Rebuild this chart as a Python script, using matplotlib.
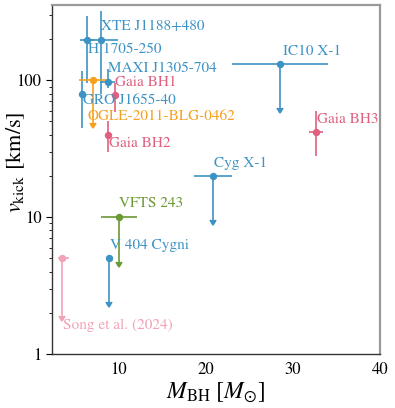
import matplotlib
matplotlib.use("Agg")
import matplotlib.pyplot as plt
import numpy as np

plt.rcParams['font.family'] = 'serif'
plt.rcParams['font.serif'] = ['STIXGeneral', 'Liberation Serif', 'DejaVu Serif']
plt.rcParams['mathtext.fontset'] = 'stix'

# black hole kick estimates
names = ["XTE J1188+480", "H 1705-250", "MAXI J1305-704", "GRO J1655-40",
         "OGLE-2011-BLG-0462", "Gaia BH1", "Gaia BH2", "Gaia BH3",
         "IC10 X-1", "Cyg X-1", "VFTS 243", "V 404 Cygni", "Song et al. (2024)"]
mass = [8.0, 6.4, 8.9, 5.9, 7.1, 9.6, 8.9, 32.7, 28.5, 20.9, 10.1, 9.0, 3.55]
mass_lo = [2.0, 0.8, 1.0, 0.0, 1.6, 0.0, 0.0, 0.8, 5.5, 2.2, 2.1, 0.0, 0.4]
mass_hi = [2.0, 0.8, 0.8, 0.0, 1.6, 0.0, 0.0, 0.8, 5.5, 2.2, 2.1, 0.0, 0.85]
vkick = [196, 196, 97, 80, 100, 78, 40, 42, 132, 20, 10, 5, 5]
vkick_lo = [116, 101, 9, 35, 51, 19, 10, 14, 69, 10.5, 5.3, 2.6, 3.1]
vkick_hi = [124, 98, 23, 36, 0, 18, 10, 18, 0, 0, 0, 0, 0]
upper_limit = [False, False, False, False, True, False, False, False,
               True, True, True, True, True]
group = ["xrb", "xrb", "xrb", "xrb", "micro", "gaia", "gaia", "gaia",
         "xrb", "xrb", "vfts", "xrb", "song"]

colors = {"xrb": "#3d93c4", "gaia": "#df5f7e", "micro": "#f5a01e",
          "vfts": "#6a9a32", "song": "#f2a2b6"}

# where each label goes (left edge, vertical centre), data coords
label_xy = {
    "XTE J1188+480": (8.0, 249), "H 1705-250": (6.55, 168),
    "MAXI J1305-704": (8.88, 122), "Gaia BH1": (9.65, 97),
    "GRO J1655-40": (6.0, 71.4), "OGLE-2011-BLG-0462": (6.5, 54.5),
    "Gaia BH2": (8.96, 34.4), "IC10 X-1": (28.9, 163),
    "Gaia BH3": (32.76, 52.2), "Cyg X-1": (21.0, 24.8),
    "VFTS 243": (10.1, 12.6), "V 404 Cygni": (9.08, 6.26),
    "Song et al. (2024)": (3.66, 1.62),
}

fig = plt.figure(figsize=(3.95, 4.08), dpi=100)
ax = fig.add_axes([0.131, 0.132, 0.831, 0.856])

for i in range(len(names)):
    c = colors[group[i]]
    # mass error bar, no caps
    if mass_lo[i] > 0 or mass_hi[i] > 0:
        ax.errorbar([mass[i]], [vkick[i]], xerr=[[mass_lo[i]], [mass_hi[i]]],
                    fmt='none', ecolor=c, elinewidth=1.2, capsize=0)
    # kick error bar / upper limit arrow
    ax.errorbar([mass[i]], [vkick[i]], yerr=[[vkick_lo[i]], [vkick_hi[i]]],
                uplims=upper_limit[i], fmt='o', color=c, ms=4.3,
                elinewidth=1.2, capsize=2.3 if upper_limit[i] else 0,
                capthick=1.2)
    lx, ly = label_xy[names[i]]
    ax.text(lx, ly, names[i], color=c, fontsize=11, ha='left', va='center')

ax.set_yscale('log')
ax.set_xlim(2.4, 40)
ax.set_ylim(1, 355)
ax.set_xticks([10, 20, 30, 40])
ax.set_yticks([1, 10, 100])
ax.set_yticklabels(['1', '10', '100'])
ax.tick_params(axis='x', length=0, labelsize=12, pad=6)
ax.tick_params(axis='y', which='major', direction='out', length=4, labelsize=12)
ax.tick_params(axis='y', which='minor', direction='out', length=2)

for s in ['left', 'bottom']:
    ax.spines[s].set_color('#333333')
    ax.spines[s].set_linewidth(1.0)
for s in ['top', 'right']:
    ax.spines[s].set_color('#9a9a9a')
    ax.spines[s].set_linewidth(1.6)

ax.set_xlabel(r'$M_{\rm BH}\ [M_{\odot}]$', fontsize=17, labelpad=2)
ax.set_ylabel(r'$v_{\rm kick}$ [km/s]', fontsize=16)
ax.yaxis.set_label_coords(-0.075, 0.55)

fig.savefig('out.png', dpi=100)
